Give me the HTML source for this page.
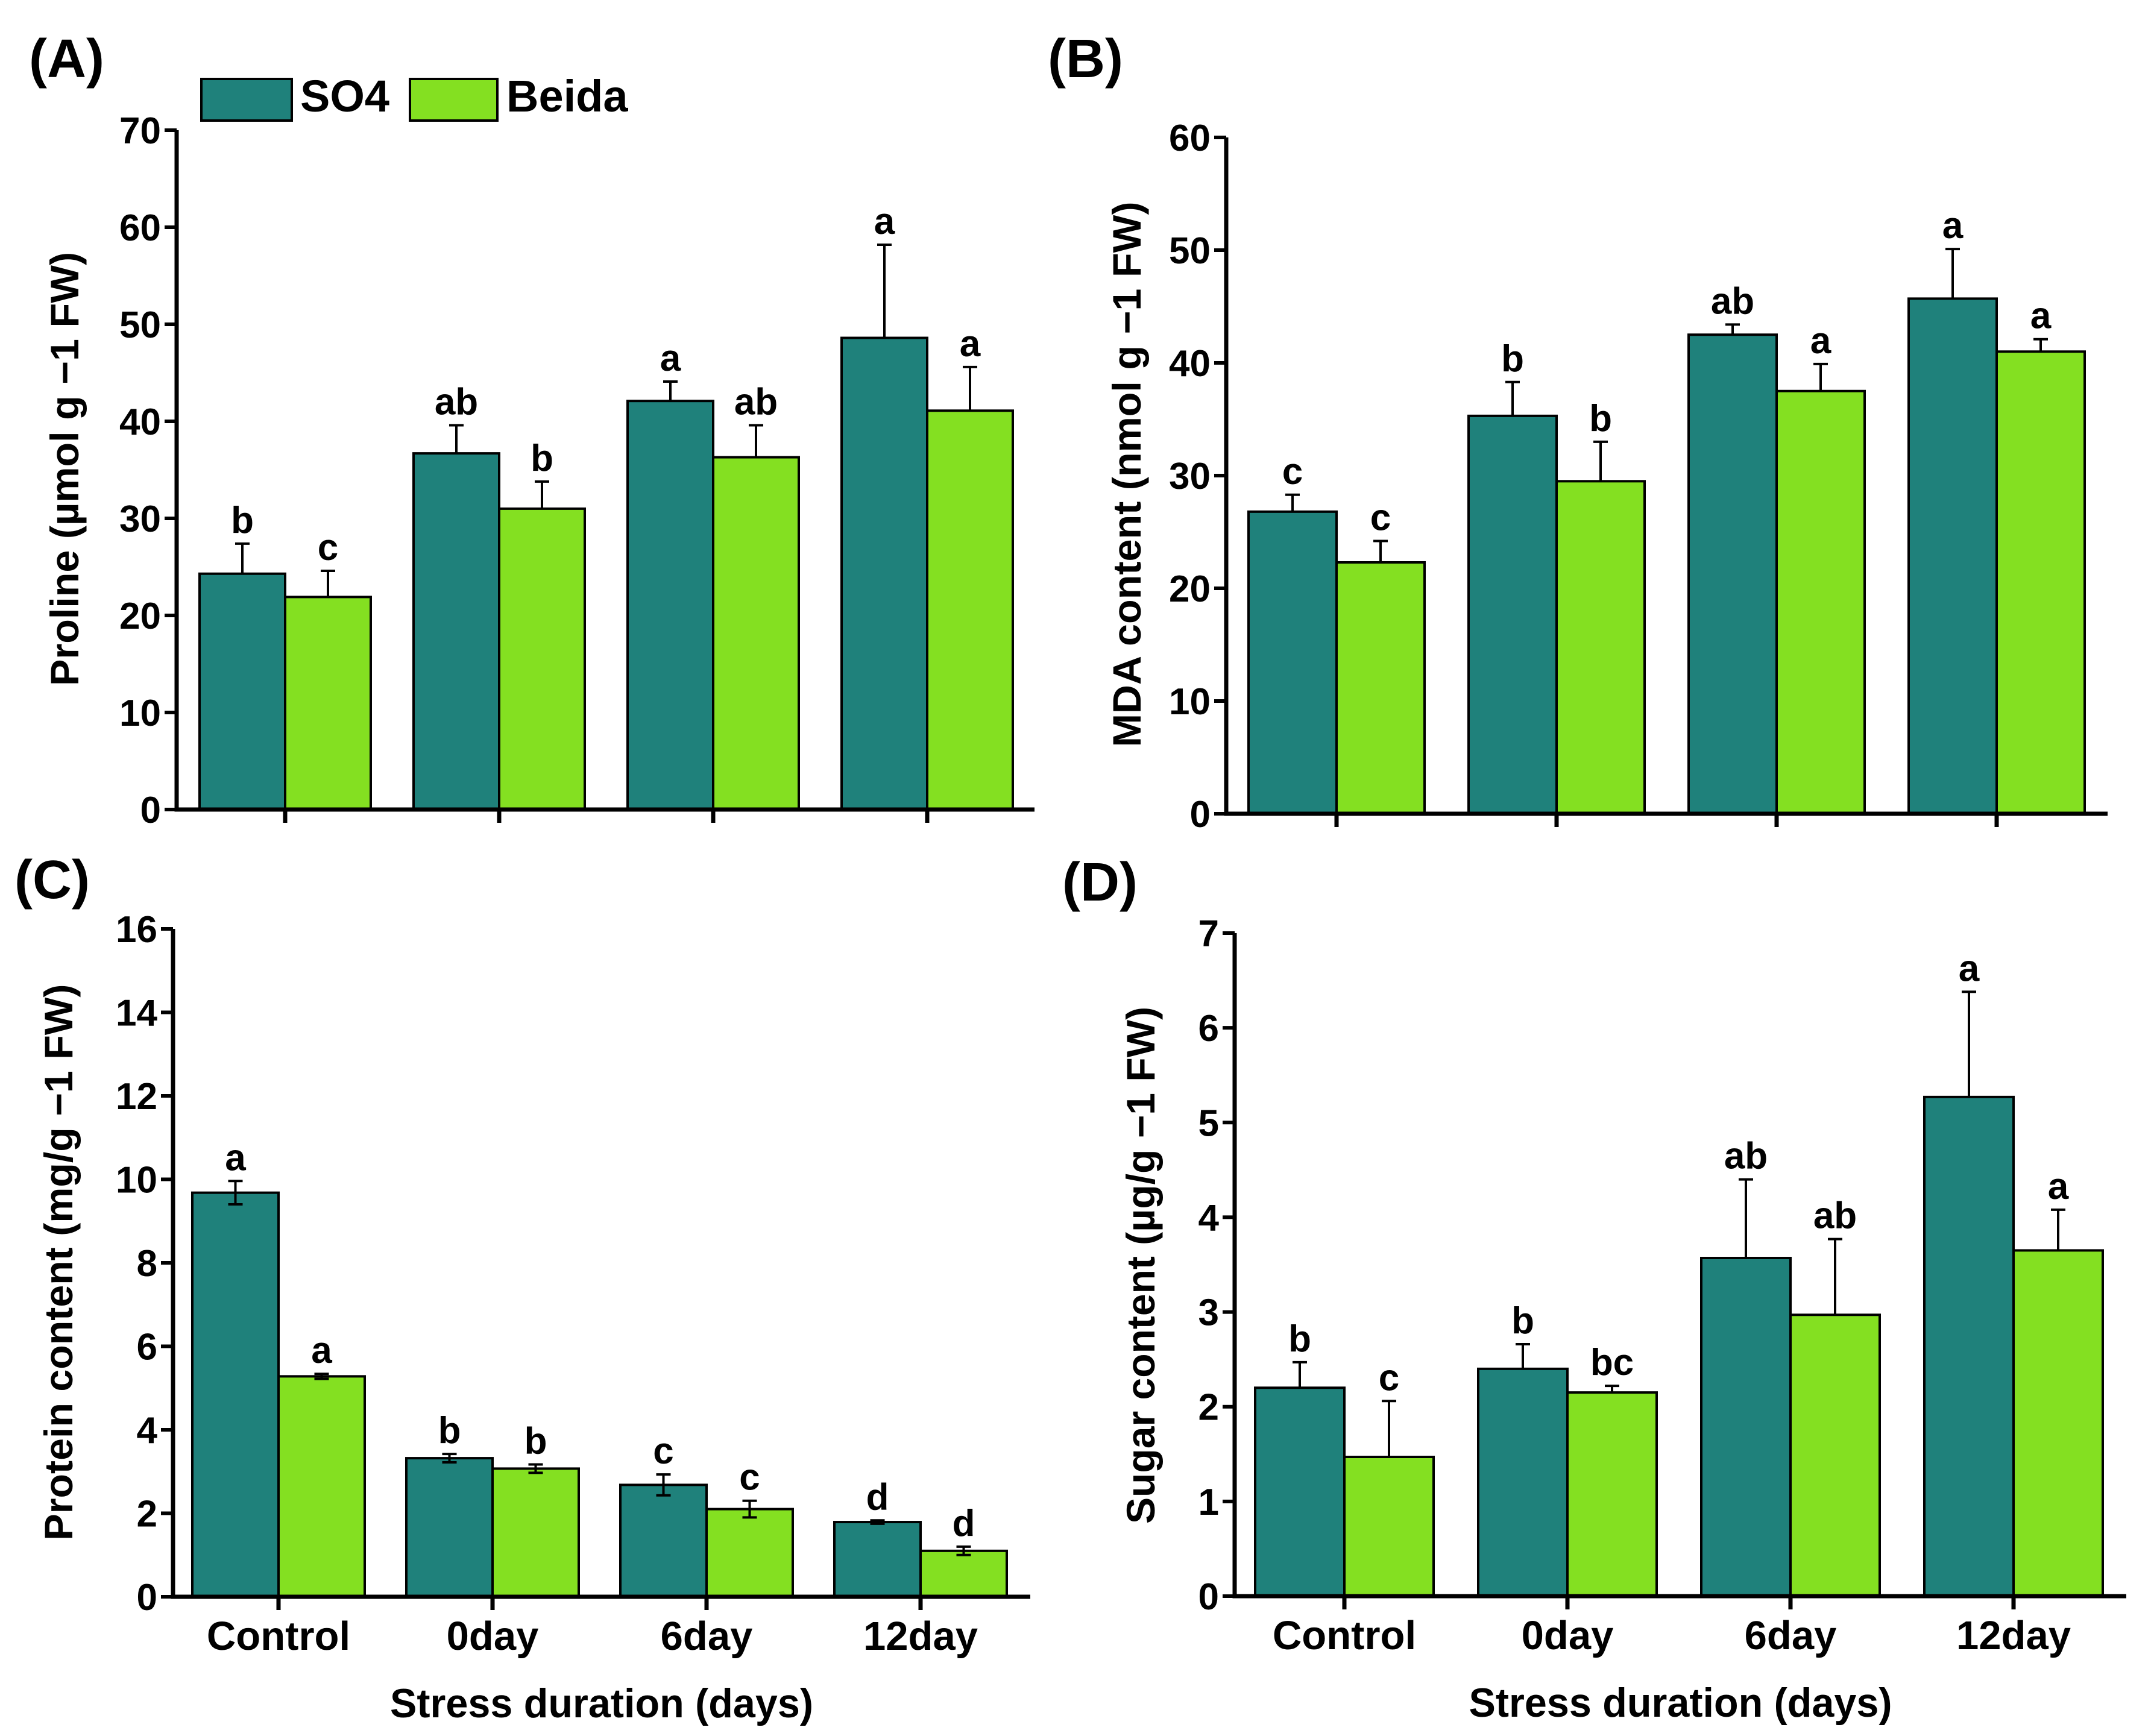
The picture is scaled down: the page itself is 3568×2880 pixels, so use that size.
<!DOCTYPE html>
<html><head><meta charset="utf-8"><style>
html,body{margin:0;padding:0;background:#fff;}
svg{display:block;font-family:"Liberation Sans",sans-serif;font-weight:bold;}
</style></head><body>
<svg id="fig" width="3568" height="2880" viewBox="0 0 3568 2880" xmlns="http://www.w3.org/2000/svg">
<rect width="3568" height="2880" fill="#fff"/>
<g>
<rect x="334" y="131" width="150" height="69" fill="#1f817b" stroke="#000" stroke-width="4"/>
<text x="498" y="185" font-size="74">SO4</text>
<rect x="680" y="131" width="145" height="69" fill="#84e021" stroke="#000" stroke-width="4"/>
<text x="840" y="185" font-size="74">Beida</text>
</g>
</svg>
<script>
const categories = ["Control","0day","6day","12day"];
const aSO4 = [24.3,36.7,42.1,48.6];
const aSO4Err = [3.1,2.9,2.0,9.6];
const aBeida = [21.9,31.0,36.3,41.1];
const aBeidaErr = [2.7,2.8,3.3,4.5];
const aSO4Let = ["b","ab","a","a"];
const aBeidaLet = ["c","b","ab","a"];
const aTicks = [0,10,20,30,40,50,60,70];

const bSO4 = [26.8,35.3,42.5,45.7];
const bSO4Err = [1.5,3.0,0.9,4.4];
const bBeida = [22.3,29.5,37.5,41.0];
const bBeidaErr = [1.9,3.5,2.4,1.1];
const bSO4Let = ["c","b","ab","a"];
const bBeidaLet = ["c","b","a","a"];
const bTicks = [0,10,20,30,40,50,60];

const cSO4 = [9.68,3.32,2.68,1.79];
const cSO4Err = [0.28,0.1,0.25,0.04];
const cBeida = [5.28,3.07,2.1,1.1];
const cBeidaErr = [0.06,0.1,0.2,0.1];
const cSO4Let = ["a","b","c","d"];
const cBeidaLet = ["a","b","c","d"];
const cTicks = [0,2,4,6,8,10,12,14,16];

const dSO4 = [2.2,2.4,3.57,5.27];
const dSO4Err = [0.27,0.26,0.83,1.11];
const dBeida = [1.47,2.15,2.97,3.65];
const dBeidaErr = [0.59,0.07,0.8,0.43];
const dSO4Let = ["b","b","ab","a"];
const dBeidaLet = ["c","bc","ab","a"];
const dTicks = [0,1,2,3,4,5,6,7];

const NS="http://www.w3.org/2000/svg";
const svg=document.getElementById('fig');
function mk(tag,attrs,parent){const e=document.createElementNS(NS,tag);for(const k in attrs)e.setAttribute(k,attrs[k]);(parent||svg).appendChild(e);return e;}

function panel(p){
  const g=mk('g',{});
  
  
  const max=p.ticks[p.ticks.length-1];
  const yS=v=>p.yBot-(v/max)*(p.yBot-p.yTop);
  const xC=i=>p.c0+i*p.sp;
  for(let i=0;i<categories.length;i++){
    const series=[[p.s1,p.e1,p.l1,'#1f817b','so4',-1],[p.s2,p.e2,p.l2,'#84e021','beida',0]];
    for(const [vals,errs,lets,col,nm,off] of series){
      const x=xC(i)+off*p.bw;
      const y=yS(vals[i]);
      const r=mk('rect',{x:x,y:y,width:p.bw,height:p.yBot-y,fill:col,stroke:'#000','stroke-width':4},g);
      
      
      const cx=x+p.bw/2;
      const yt=yS(vals[i]+errs[i]);
      const yb=p.both?yS(vals[i]-errs[i]):y;
      const eb=mk('path',{d:`M${cx},${yb}L${cx},${yt}M${cx-12},${yt}L${cx+12},${yt}`+(p.both?`M${cx-12},${yb}L${cx+12},${yb}`:''),stroke:'#000','stroke-width':4,fill:'none'},g);
      
      
      const t=mk('text',{x:cx,y:yt-18,'font-size':62,'text-anchor':'middle'},g);
      t.textContent=lets[i];
      
      
    }
    const tk=mk('line',{x1:xC(i),x2:xC(i),y1:p.yBot,y2:p.yBot+22,stroke:'#000','stroke-width':7},g);
    
    
    if(p.cats){
      const ct=mk('text',{x:xC(i),y:p.yBot+88,'font-size':67,'text-anchor':'middle'},g);
      ct.textContent=categories[i];
      
      
    }
  }
  const ax=mk('path',{d:`M${p.x0},${p.yTop}L${p.x0},${p.yBot}L${p.x1},${p.yBot}`,stroke:'#000','stroke-width':7,fill:'none'},g);
  
  
  for(const v of p.ticks){
    const y=yS(v);
    const l=mk('line',{x1:p.x0-20,x2:p.x0,y1:y,y2:y,stroke:'#000','stroke-width':6},g);
    
    
    const t=mk('text',{x:p.x0-26,y:y+22,'font-size':62,'text-anchor':'end'},g);
    t.textContent=v;
    
    
  }
  const yt=mk('text',{x:0,y:0,'font-size':66,'text-anchor':'middle',textLength:p.tl,lengthAdjust:'spacingAndGlyphs',transform:`translate(${p.tx},${p.ty}) rotate(-90)`},g);
  yt.textContent=p.title;
  
  
  if(p.cats){
    const xt=mk('text',{x:(p.x0+p.x1)/2,y:p.yBot+200,'font-size':68,'text-anchor':'middle',textLength:702,lengthAdjust:'spacingAndGlyphs'},g);
    xt.textContent='Stress duration (days)';
    
    
  }
  const pl=mk('text',{x:p.px,y:p.py,'font-size':90},g);
  pl.textContent=p.label;
  
  
}
panel({id:'a',label:'(A)',px:48,py:128,x0:293,x1:1716,yTop:216,yBot:1343,c0:473,sp:355,bw:142,ticks:aTicks,s1:aSO4,e1:aSO4Err,l1:aSO4Let,s2:aBeida,e2:aBeidaErr,l2:aBeidaLet,title:'Proline (µmol g −1 FW)',tl:720,tx:130,ty:778,cats:false});
panel({id:'b',label:'(B)',px:1738,py:128,x0:2034,x1:3496,yTop:228,yBot:1350,c0:2217,sp:365,bw:146,ticks:bTicks,s1:bSO4,e1:bSO4Err,l1:bSO4Let,s2:bBeida,e2:bBeidaErr,l2:bBeidaLet,title:'MDA content (nmol g −1 FW)',tl:905,tx:1892,ty:787,cats:false});
panel({id:'c',label:'(C)',px:24,py:1490,x0:287,x1:1709,yTop:1541,yBot:2649,c0:462,sp:355,bw:143,ticks:cTicks,s1:cSO4,e1:cSO4Err,l1:cSO4Let,s2:cBeida,e2:cBeidaErr,l2:cBeidaLet,title:'Protein content (mg/g −1 FW)',tl:923,tx:120,ty:2094,cats:true,both:true});
panel({id:'d',label:'(D)',px:1762,py:1494,x0:2048,x1:3527,yTop:1548,yBot:2648,c0:2230,sp:370,bw:148,ticks:dTicks,s1:dSO4,e1:dSO4Err,l1:dSO4Let,s2:dBeida,e2:dBeidaErr,l2:dBeidaLet,title:'Sugar content (µg/g −1 FW)',tl:858,tx:1915,ty:2099,cats:true});
</script>
</body></html>
